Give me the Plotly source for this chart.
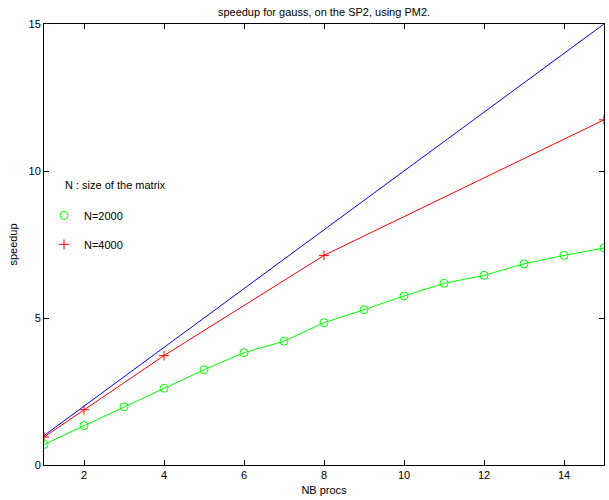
import plotly.graph_objects as go

procs_ideal = [1, 15]
speedup_ideal = [1, 15]

procs_4000 = [1, 2, 4, 8, 15]
speedup_4000 = [0.95, 1.88, 3.72, 7.13, 11.74]

procs_2000 = [1, 2, 3, 4, 5, 6, 7, 8, 9, 10, 11, 12, 13, 14, 15]
speedup_2000 = [0.70, 1.34, 1.98, 2.61, 3.24, 3.82, 4.21, 4.84, 5.28, 5.75, 6.18, 6.45, 6.84, 7.13, 7.38]

x_ticks = [2, 4, 6, 8, 10, 12, 14]
y_ticks = [0, 5, 10, 15]

FONT = "Liberation Sans, Arial, Helvetica, sans-serif"

fig = go.Figure()
fig.add_trace(go.Scatter(x=procs_ideal, y=speedup_ideal, mode="lines",
                         line=dict(color="#0000ff", width=1), showlegend=False, hoverinfo="skip"))
fig.add_trace(go.Scatter(x=procs_4000, y=speedup_4000, mode="lines+markers",
                         line=dict(color="#ff0000", width=1),
                         marker=dict(symbol="cross-thin", size=7, line=dict(color="#ff0000", width=1)),
                         showlegend=False))
fig.add_trace(go.Scatter(x=procs_2000, y=speedup_2000, mode="lines+markers",
                         line=dict(color="#00ff00", width=1),
                         marker=dict(symbol="circle-open", size=8, color="#00ff00", line=dict(width=1)),
                         showlegend=False))
# legend-only entries (markers only, as in the reference)
fig.add_trace(go.Scatter(x=[None], y=[None], mode="markers", name="N=2000",
                         marker=dict(symbol="circle-open", size=8, color="#00ff00", line=dict(width=1)),
                         legendgroup="a"))
fig.add_trace(go.Scatter(x=[None], y=[None], mode="markers", name="N=4000",
                         marker=dict(symbol="cross-thin", size=7, line=dict(color="#ff0000", width=1)),
                         legendgroup="b"))

axis_common = dict(showline=True, linecolor="black", linewidth=1, mirror="ticks",
                   ticks="inside", ticklen=5, tickcolor="black", showgrid=False, zeroline=False,
                   tickfont=dict(size=11, color="black", family=FONT))

fig.update_layout(
    width=609, height=500,
    margin=dict(l=44, r=5, t=24, b=35),
    paper_bgcolor="white", plot_bgcolor="white",
    font=dict(family=FONT, size=11, color="black"),
    title=dict(text="speedup for gauss, on the SP2, using PM2.", xref="paper", x=0.5, xanchor="center",
               y=1 - 12 / 500, yanchor="middle", font=dict(size=11, color="black", family=FONT)),
    xaxis=dict(range=[1, 15], tickvals=x_ticks,
               title=dict(text="NB procs", font=dict(size=11), standoff=6), **axis_common),
    yaxis=dict(range=[0, 15], tickvals=y_ticks,
               title=dict(text="speedup", font=dict(size=11), standoff=8), **axis_common),
    legend=dict(x=0.0, y=0.599, xanchor="left", yanchor="top", bgcolor="rgba(0,0,0,0)",
                font=dict(size=11), tracegroupgap=10, itemwidth=30),
    annotations=[dict(text="N : size of the matrix", xref="paper", yref="paper",
                      x=0.034, y=0.635, xanchor="left", yanchor="middle", showarrow=False,
                      font=dict(size=11, color="black", family=FONT))],
)

fig.write_html("out.html", config={"displayModeBar": False},
               post_script="document.body.style.margin='0';document.body.style.overflow='hidden';")
